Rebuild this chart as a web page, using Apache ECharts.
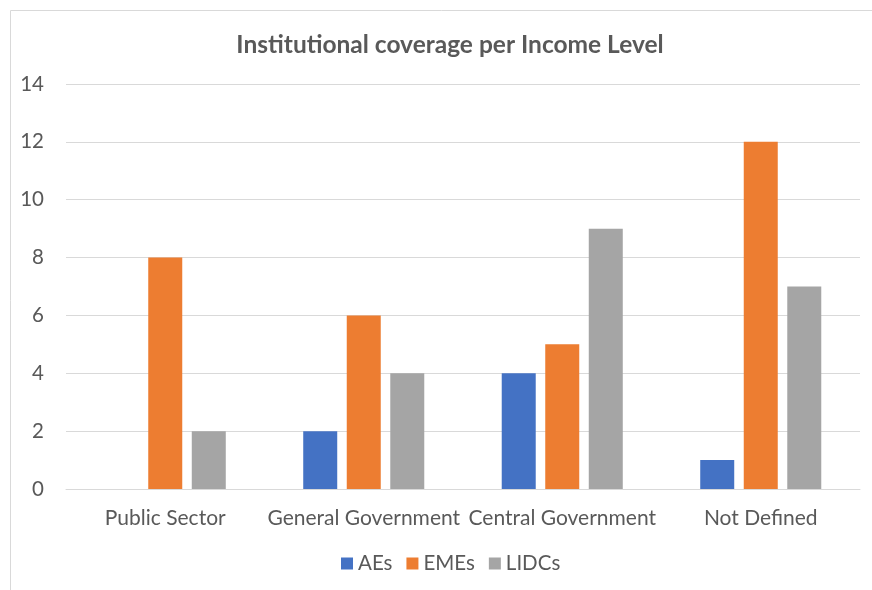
<!DOCTYPE html>
<html><head><meta charset="utf-8">
<script src="https://cdn.jsdelivr.net/npm/echarts@6/dist/echarts.min.js"></script>
<style>html,body{margin:0;padding:0;background:#fff}#c{width:872px;height:590px}</style>
</head><body><div id="c"></div>
<script>
const categories = ['Public Sector', 'General Government', 'Central Government', 'Not Defined'];
const seriesNames = ['AEs', 'EMEs', 'LIDCs'];
const aes = [null, 2, 4, 1];
const emes = [8, 6, 5, 12];
const lidcs = [2, 4, 9, 7];
const colors = ['#4472C4', '#ED7D31', '#A5A5A5'];
const font = 'Lato, "Open Sans", sans-serif';
const chart = echarts.init(document.getElementById('c'));
const mk = (name, data, i) => ({
  name, type: 'bar', data, barWidth: 34, barGap: '28%',
  itemStyle: { color: colors[i] }
});
chart.setOption({
  animation: false,
  graphic: [{ type: 'rect', shape: { x: 10.5, y: 10.5, width: 880, height: 600 },
    style: { fill: 'none', stroke: '#D9D9D9', lineWidth: 1 } }],
  title: { text: 'Institutional coverage per Income Level', left: 445, textAlign: 'center', top: 28,
    textStyle: { fontFamily: font, fontSize: 24.5, fontWeight: 'bold', color: '#595959' } },
  legend: { data: seriesNames, top: 548, left: 336, itemWidth: 12, itemHeight: 12, itemGap: 14,
    icon: 'rect', textStyle: { fontFamily: font, fontSize: 20.5, color: '#595959' } },
  grid: { left: 66, right: 12, top: 84, bottom: 101, containLabel: false },
  xAxis: { type: 'category', data: categories,
    axisLine: { lineStyle: { color: '#D9D9D9', width: 1 } }, axisTick: { show: false },
    axisLabel: { fontFamily: font, fontSize: 21, color: '#595959', margin: 19, interval: 0 } },
  yAxis: { type: 'value', min: 0, max: 14, interval: 2,
    axisLine: { show: false }, axisTick: { show: false },
    splitLine: { lineStyle: { color: '#D9D9D9', width: 1 } },
    axisLabel: { fontFamily: font, fontSize: 20.5, color: '#595959', margin: 22 } },
  series: [mk('AEs', aes, 0), mk('EMEs', emes, 1), mk('LIDCs', lidcs, 2)]
});
</script></body></html>
